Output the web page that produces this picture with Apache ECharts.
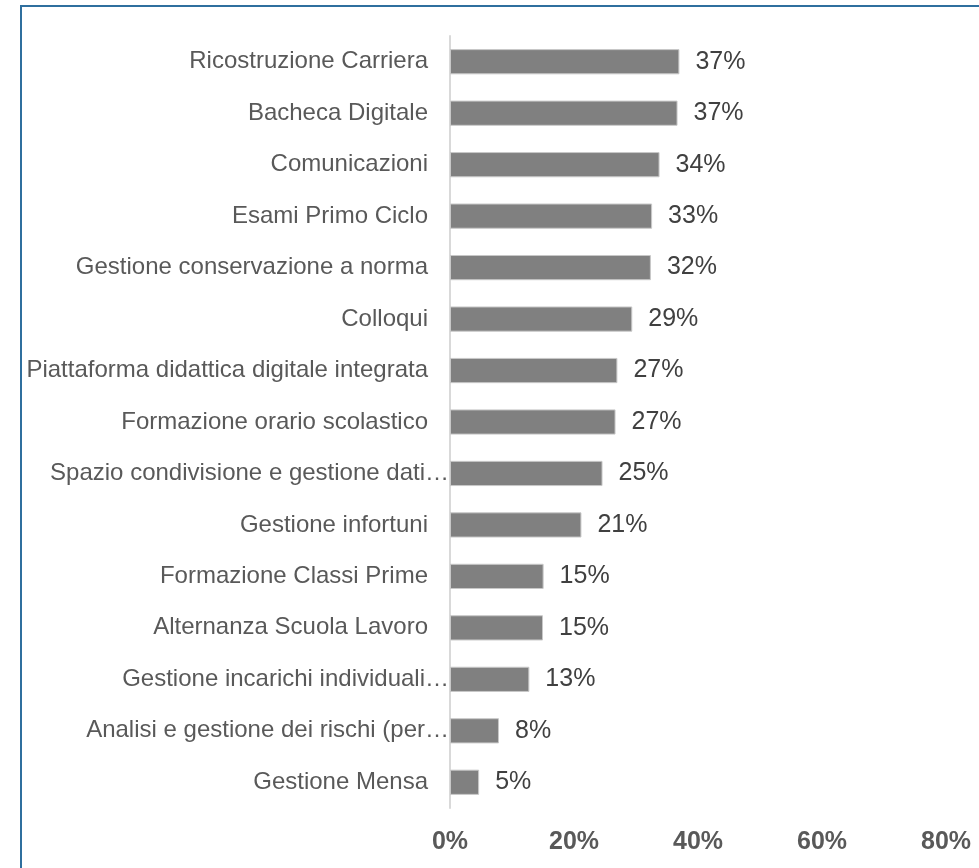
<!DOCTYPE html>
<html>
<head>
<meta charset="utf-8">
<script src="https://cdn.jsdelivr.net/npm/echarts@6/dist/echarts.min.js"></script>
<style>
html,body{margin:0;padding:0;background:#fff;}
#chart{width:979px;height:868px;}
</style>
</head>
<body>
<div id="chart"></div>
<script>
const categories = [
  "Ricostruzione Carriera",
  "Bacheca Digitale",
  "Comunicazioni",
  "Esami Primo Ciclo",
  "Gestione conservazione a norma",
  "Colloqui",
  "Piattaforma didattica digitale integrata",
  "Formazione orario scolastico",
  "Spazio condivisione e gestione dati…",
  "Gestione infortuni",
  "Formazione Classi Prime",
  "Alternanza Scuola Lavoro",
  "Gestione incarichi individuali…",
  "Analisi e gestione dei rischi (per…",
  "Gestione Mensa"
];
const values = [37.0, 36.7, 33.8, 32.6, 32.4, 29.4, 27.0, 26.7, 24.6, 21.2, 15.1, 15.0, 12.8, 7.9, 4.7];
const tickLabels = ["0%", "20%", "40%", "60%", "80%"];

const FONT = "'Liberation Sans', Arial, sans-serif";
const chart = echarts.init(document.getElementById('chart'));
chart.setOption({
  animation: false,
  backgroundColor: '#ffffff',
  graphic: [{
    type: 'rect',
    shape: { x: 21, y: 6, width: 1000, height: 900 },
    style: { fill: 'none', stroke: '#2f6f9e', lineWidth: 2 },
    silent: true
  }],
  grid: { left: 450, right: 33, top: 36, bottom: 60, containLabel: false },
  xAxis: {
    type: 'value',
    min: 0, max: 80, interval: 20,
    axisLine: { show: false },
    axisTick: { show: false },
    splitLine: { show: false },
    axisLabel: {
      margin: 22,
      fontFamily: FONT, fontSize: 25, fontWeight: 'bold', color: '#595959',
      formatter: function (v) { return tickLabels[Math.round(v / 20)]; }
    }
  },
  yAxis: {
    type: 'category',
    inverse: true,
    data: categories,
    axisLine: { show: true, lineStyle: { color: '#d9d9d9', width: 2 } },
    axisTick: { show: false },
    axisLabel: {
      margin: 0,
      fontFamily: FONT, fontSize: 24, color: '#595959',
      formatter: function (v) {
        return v.endsWith('…') ? '{t|' + v + '}' : '{n|' + v + '}';
      },
      rich: {
        n: { fontFamily: FONT, fontSize: 24, color: '#595959', padding: [0, 22, 0, 0] },
        t: { fontFamily: FONT, fontSize: 24, color: '#595959', padding: [0, 1, 0, 0] }
      }
    }
  },
  series: [{
    type: 'bar',
    data: values,
    barCategoryGap: '51%',
    itemStyle: { color: '#808080', borderColor: '#c8c8c8', borderWidth: 1 },
    label: {
      show: true,
      position: 'right',
      distance: 16,
      fontFamily: FONT, fontSize: 25, color: '#404040',
      formatter: function (p) { return Math.round(p.value) + '%'; }
    }
  }]
});
</script>
</body>
</html>
